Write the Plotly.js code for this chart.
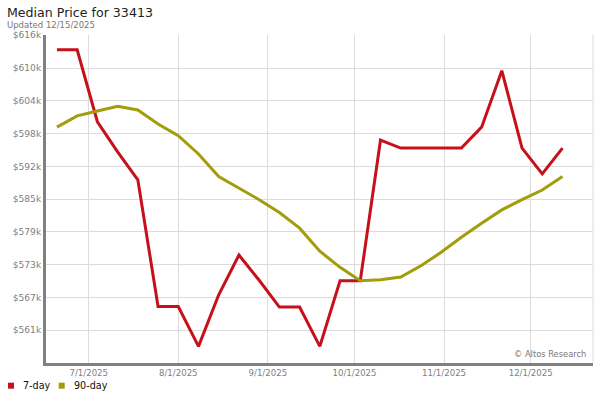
<!DOCTYPE html>
<html>
<head>
<meta charset="utf-8">
<script src="https://cdn.plot.ly/plotly-3.0.1.min.js"></script>
<style>html,body{margin:0;padding:0;background:#fff}#chart{width:600px;height:400px}</style>
</head>
<body>
<div id="chart"></div>
<script>
// Weekly observation dates
const dates = ['2025-06-20','2025-06-27','2025-07-04','2025-07-11','2025-07-18','2025-07-25',
  '2025-08-01','2025-08-08','2025-08-15','2025-08-22','2025-08-29','2025-09-05','2025-09-12',
  '2025-09-19','2025-09-26','2025-10-03','2025-10-10','2025-10-17','2025-10-24','2025-10-31',
  '2025-11-07','2025-11-14','2025-11-21','2025-11-28','2025-12-05','2025-12-12'];
// 7-day median price (USD)
const sevenDay = [613200,613200,599800,594200,589000,565400,565400,558000,567600,575000,570300,
  565300,565300,558000,570200,570200,596400,594900,594900,594900,594900,598800,609300,594900,590100,594900];
// 90-day median price (USD)
const ninetyDay = [598800,600900,601800,602700,602000,599400,597200,593800,589600,587400,585300,
  582900,580000,575700,572700,570200,570400,570900,573000,575500,578300,580900,583400,585300,587100,589600];
// Axis ticks
const yTickVals = [561000,567100,573200,579300,585400,591500,597600,603700,609800,615900];
const yTickText = ['$561k','$567k','$573k','$579k','$585k','$592k','$598k','$604k','$610k','$616k'];
const xTickVals = ['2025-07-01','2025-08-01','2025-09-01','2025-10-01','2025-11-01','2025-12-01'];
const xTickText = ['7/1/2025','8/1/2025','9/1/2025','10/1/2025','11/1/2025','12/1/2025'];
const seriesNames = ['7-day','90-day'];
const seriesColors = ['#c6101a','#a29d0a'];

const font = 'DejaVu Sans, Verdana, sans-serif';

const traces = [
  {x: dates, y: sevenDay, name: seriesNames[0], type: 'scatter', mode: 'lines',
   line: {color: seriesColors[0], width: 3}, showlegend: false},
  {x: dates, y: ninetyDay, name: seriesNames[1], type: 'scatter', mode: 'lines',
   line: {color: seriesColors[1], width: 3}, showlegend: false}
];

const L = 46, R = 593, T = 35, B = 363.3;
const W = R - L, H = B - T;
const px = v => (v - L) / W;
const py = v => (B - v) / H;

const layout = {
  width: 600, height: 400,
  margin: {l: L, r: 600 - R, t: T, b: 400 - B},
  paper_bgcolor: '#fff', plot_bgcolor: '#fff',
  font: {family: font, color: '#777'},
  title: {text: 'Median Price for 33413', x: 7/600, xanchor: 'left', xref: 'container',
          y: 1 - 12.5/400, yanchor: 'middle', yref: 'container',
          font: {family: font, size: 12.6, color: '#222'}},
  xaxis: {type: 'date', range: ['2025-06-16 05:00', '2025-12-22 13:30'],
          tickmode: 'array', tickvals: xTickVals, ticktext: xTickText,
          showgrid: true, gridcolor: '#dcdcdc', gridwidth: 1,
          showline: true, linecolor: '#808080', linewidth: 3, mirror: false,
          ticks: '', zeroline: false, fixedrange: true,
          tickfont: {family: font, size: 8.6, color: '#808080'}},
  yaxis: {range: [554900, 615950], tickmode: 'array', tickvals: yTickVals, ticktext: yTickText,
          showgrid: true, gridcolor: '#dcdcdc', gridwidth: 1,
          showline: true, linecolor: '#808080', linewidth: 3,
          ticks: '', zeroline: false, fixedrange: true,
          tickfont: {family: font, size: 9.1, color: '#808080'}},
  shapes: [
    {type: 'line', xref: 'paper', yref: 'paper', x0: 1, x1: 1, y0: 0, y1: 1,
     line: {color: '#dcdcdc', width: 1}},
    {type: 'rect', xref: 'paper', yref: 'paper', x0: px(8), x1: px(14), y0: py(389), y1: py(383),
     fillcolor: seriesColors[0], line: {width: 0}},
    {type: 'rect', xref: 'paper', yref: 'paper', x0: px(58.7), x1: px(64.7), y0: py(389), y1: py(383),
     fillcolor: seriesColors[1], line: {width: 0}}
  ],
  annotations: [
    {text: 'Updated 12/15/2025', xref: 'paper', yref: 'paper', x: px(6), y: py(25.3),
     xanchor: 'left', yanchor: 'middle', showarrow: false, borderpad: 0,
     font: {family: font, size: 8.5, color: '#777'}},
    {text: seriesNames[0], xref: 'paper', yref: 'paper', x: px(20.5), y: py(386),
     xanchor: 'left', yanchor: 'middle', showarrow: false,
     font: {family: font, size: 9.6, color: '#111'}},
    {text: seriesNames[1], xref: 'paper', yref: 'paper', x: px(71.5), y: py(386),
     xanchor: 'left', yanchor: 'middle', showarrow: false,
     font: {family: font, size: 9.6, color: '#111'}},
    {text: '© Altos Research', xref: 'paper', yref: 'paper', x: px(588), y: py(354),
     xanchor: 'right', yanchor: 'middle', showarrow: false,
     font: {family: font, size: 8.3, color: '#777'}}
  ],
  showlegend: false
};

Plotly.newPlot('chart', traces, layout, {displayModeBar: false, staticPlot: true});
</script>
</body>
</html>
